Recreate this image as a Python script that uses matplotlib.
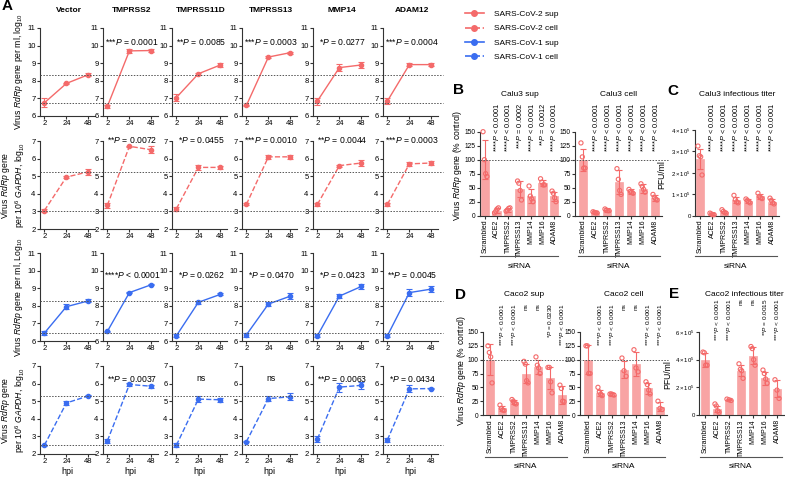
import numpy as np
import matplotlib
matplotlib.use("Agg")
import matplotlib.pyplot as plt
import matplotlib.transforms as mtransforms
from matplotlib.lines import Line2D

plt.rcParams["font.family"] = ["Liberation Sans", "DejaVu Sans"]
plt.rcParams["mathtext.fontset"] = "custom"
plt.rcParams["mathtext.rm"] = "Liberation Sans"
plt.rcParams["mathtext.it"] = "Liberation Sans:italic"
plt.rcParams["axes.linewidth"] = 0.8

W, H = 785, 480
RED = "#F46A6A"
BLUE = "#3A6DF0"
BAR_FILL = "#F8A4A4"
AXC = "#333333"

# ── Panel A data ─────────────────────────────────────────────────────────
hpi = ["2", "24", "48"]
constructs = ["Vector", "TMPRSS2", "TMPRSS11D", "TMPRSS13", "MMP14", "ADAM12"]

cov2_sup_mean = [[6.75, 7.85, 8.35], [6.55, 9.7, 9.72], [7.05, 8.4, 8.9],
                 [6.6, 9.35, 9.6], [6.85, 8.75, 8.9], [6.85, 8.92, 8.92]]
cov2_sup_err = [[0.25, 0.05, 0.08], [0.1, 0.1, 0.1], [0.2, 0.05, 0.12],
                [0.03, 0.05, 0.05], [0.2, 0.2, 0.15], [0.15, 0.08, 0.1]]
cov2_sup_p = ["", "***$P$ = 0.0001", "**$P$ = 0.0085", "***$P$ = 0.0003",
              "*$P$ = 0.0277", "***$P$ = 0.0004"]

cov2_cell_mean = [[3.05, 4.95, 5.25], [3.35, 6.7, 6.5], [3.15, 5.5, 5.5],
                  [3.4, 6.1, 6.1], [3.4, 5.6, 5.75], [3.4, 5.7, 5.75]]
cov2_cell_err = [[0.1, 0.05, 0.18], [0.15, 0.03, 0.2], [0.1, 0.12, 0.1],
                 [0.05, 0.1, 0.1], [0.1, 0.05, 0.15], [0.1, 0.12, 0.1]]
cov2_cell_p = ["", "**$P$ = 0.0072", "*$P$ = 0.0455", "***$P$ = 0.0010",
               "**$P$ = 0.0044", "***$P$ = 0.0003"]

cov1_sup_mean = [[6.45, 7.95, 8.28], [6.55, 8.75, 9.2], [6.3, 8.2, 8.65],
                 [6.35, 8.1, 8.55], [6.3, 8.55, 9.1], [6.3, 8.75, 8.95]]
cov1_sup_err = [[0.1, 0.15, 0.08], [0.03, 0.03, 0.03], [0.1, 0.1, 0.05],
                [0.1, 0.1, 0.15], [0.1, 0.12, 0.15], [0.1, 0.2, 0.15]]
cov1_sup_p = ["", "****$P$ < 0.0001", "*$P$ = 0.0262", "*$P$ = 0.0470",
              "*$P$ = 0.0423", "**$P$ = 0.0045"]

cov1_cell_mean = [[2.5, 4.9, 5.3], [2.75, 5.95, 5.85], [2.5, 5.12, 5.08],
                  [2.7, 5.15, 5.25], [2.85, 5.8, 5.9], [2.8, 5.7, 5.72]]
cov1_cell_err = [[0.03, 0.12, 0.03], [0.12, 0.08, 0.08], [0.1, 0.15, 0.12],
                 [0.03, 0.12, 0.2], [0.18, 0.25, 0.18], [0.1, 0.2, 0.03]]
cov1_cell_p = ["", "**$P$ = 0.0037", "ns", "ns", "**$P$ = 0.0063", "*$P$ = 0.0434"]

legend_labels = ["SARS-CoV-2 sup", "SARS-CoV-2 cell", "SARS-CoV-1 sup", "SARS-CoV-1 cell"]

# ── Panels B–E data ──────────────────────────────────────────────────────
sirna = ["Scrambled", "ACE2", "TMPRSS2", "TMPRSS13", "MMP14", "MMP16", "ADAM8"]

calu3_sup_mean = [100, 9, 10, 48, 35, 58, 35]
calu3_sup_sd = [35, 4, 4, 14, 12, 5, 8]
calu3_sup_pts = [[150, 100, 75, 70], [5, 8, 12, 14], [8, 10, 13, 14], [62, 58, 45, 28],
                 [53, 35, 30, 25], [66, 60, 55, 55], [44, 40, 32, 25]]
calu3_sup_p = ["", "****$P$ < 0.0001", "****$P$ < 0.0001", "***$P$ = 0.0002",
               "****$P$ < 0.0001", "**$P$ = 0.0012", "****$P$ < 0.0001"]

calu3_cell_mean = [100, 6, 10, 60, 43, 48, 32]
calu3_cell_sd = [20, 2, 3, 22, 4, 8, 5]
calu3_cell_pts = [[130, 105, 85, 85], [7, 6, 5, 5], [12, 10, 9, 9], [84, 65, 45, 38],
                  [47, 43, 42, 40], [57, 52, 47, 42], [38, 33, 30, 28]]
calu3_cell_p = ["", "****$P$ < 0.0001", "****$P$ < 0.0001", "****$P$ < 0.0001",
                "****$P$ < 0.0001", "****$P$ < 0.0001", "****$P$ < 0.0001"]

calu3_pfu_mean = [2.65e5, 0.08e5, 0.18e5, 0.72e5, 0.68e5, 0.9e5, 0.65e5]
calu3_pfu_sd = [0.45e5, 0.03e5, 0.06e5, 0.15e5, 0.08e5, 0.12e5, 0.12e5]
calu3_pfu_pts = [[3.25e5, 2.8e5, 2.75e5, 1.9e5], [0.12e5, 0.08e5, 0.05e5, 0.05e5],
                 [0.28e5, 0.2e5, 0.15e5, 0.12e5], [0.95e5, 0.75e5, 0.65e5, 0.6e5],
                 [0.78e5, 0.72e5, 0.65e5, 0.6e5], [1.05e5, 0.9e5, 0.85e5, 0.8e5],
                 [0.82e5, 0.72e5, 0.6e5, 0.55e5]]
calu3_pfu_p = calu3_cell_p

caco2_sup_mean = [100, 12, 23, 75, 87, 67, 36]
caco2_sup_sd = [28, 5, 4, 17, 12, 20, 17]
caco2_sup_pts = [[125, 113, 105, 58], [18, 12, 9, 8], [28, 25, 21, 20], [97, 92, 62, 58],
                 [105, 90, 85, 75], [86, 86, 60, 40], [54, 48, 25, 24]]
caco2_sup_p = ["", "****$P$ < 0.0001", "****$P$ < 0.0001", "ns", "ns",
               "*$P$ = 0.0230", "****$P$ < 0.0001"]

caco2_cell_mean = [100, 40, 37, 82, 92, 48, 15]
caco2_cell_sd = [26, 6, 2, 15, 22, 10, 8]
caco2_cell_pts = [[125, 125, 75, 75], [50, 42, 38, 35], [38, 38, 37, 36], [103, 80, 70],
                  [118, 85, 78], [60, 55, 45, 38], [25, 12, 10]]
caco2_cell_p = ["", "****$P$ < 0.0001", "****$P$ < 0.0001", "ns", "ns",
                "****$P$ < 0.0001", "****$P$ < 0.0001"]

caco2_pfu_mean = [4.0e5, 0.45e5, 1.1e5, 3.2e5, 4.3e5, 2.65e5, 1.9e5]
caco2_pfu_sd = [0.5e5, 0.2e5, 0.05e5, 0.4e5, 0.6e5, 0.45e5, 0.6e5]
caco2_pfu_pts = [[4.55e5, 4.5e5, 3.6e5, 3.6e5], [0.8e5, 0.65e5, 0.3e5, 0.2e5],
                 [1.15e5, 1.1e5, 1.05e5], [3.7e5, 3.3e5, 3.2e5, 2.65e5],
                 [4.95e5, 4.8e5, 4.0e5, 3.6e5], [3.25e5, 3.0e5, 2.6e5, 2.3e5],
                 [2.55e5, 1.8e5, 1.2e5]]
caco2_pfu_p = ["", "****$P$ < 0.0001", "****$P$ < 0.0001", "ns", "ns",
               "**$P$ = 0.0015", "****$P$ < 0.0001"]


def px_rect(left, top, width, height):
    return [left / W, 1 - (top + height) / H, width / W, height / H]


def fx(x):
    return x / W


def fy(y):
    return 1 - y / H


def style_axes(ax, labelsize=5.5):
    for s in ["top", "right"]:
        ax.spines[s].set_visible(False)
    for s in ["left", "bottom"]:
        ax.spines[s].set_color(AXC)
    ax.tick_params(length=2, width=0.8, labelsize=labelsize, pad=1.2, color=AXC)


fig = plt.figure(figsize=(W / 100, H / 100), dpi=100)

# ── Panel A ──────────────────────────────────────────────────────────────
col_left = [40, 103, 172, 242, 313, 383]
row_top = [28, 141, 253, 366]
a_w, a_h = 55, 88
p_offset = [9, -6, 17, 8]

rows = [
    (cov2_sup_mean, cov2_sup_err, cov2_sup_p, RED, "-", (6, 11)),
    (cov2_cell_mean, cov2_cell_err, cov2_cell_p, RED, "--", (2, 7)),
    (cov1_sup_mean, cov1_sup_err, cov1_sup_p, BLUE, "-", (6, 11)),
    (cov1_cell_mean, cov1_cell_err, cov1_cell_p, BLUE, "--", (2, 7)),
]
ylabels = [
    "Virus $\\mathit{RdRp}$ gene per ml, log$_{10}$",
    "Virus $\\mathit{RdRp}$ gene\nper 10$^{6}$ $\\mathit{GAPDH}$, log$_{10}$",
    "Virus $\\mathit{RdRp}$ gene per ml, Log$_{10}$",
    "Virus $\\mathit{RdRp}$ gene\nper 10$^{6}$ $\\mathit{GAPDH}$, log$_{10}$",
]
ylabel_x = [19, 13, 19, 13]

x = np.arange(len(hpi))
for r, (means, errs, ptxt, color, ls, ylim) in enumerate(rows):
    first_ax = None
    for c in range(len(constructs)):
        ax = fig.add_axes(px_rect(col_left[c], row_top[r], a_w, a_h))
        ax.errorbar(x, means[c], yerr=errs[c], color=color, ls=ls, lw=1.0,
                    marker="o", ms=3, capsize=2, elinewidth=0.8, capthick=0.8)
        ax.set_xlim(-0.2, 2.3)
        ax.set_ylim(*ylim)
        ax.set_yticks(range(ylim[0], ylim[1] + 1))
        ax.set_xticks(x)
        ax.set_xticklabels(hpi)
        style_axes(ax)
        if ptxt[c]:
            ax.text(0.53, 1 - p_offset[r] / a_h, ptxt[c], transform=ax.transAxes,
                    ha="center", va="top", fontsize=6.2)
        if r == 0:
            fig.text(fx(col_left[c] + 29), fy(10), constructs[c], ha="center", va="center",
                     fontsize=6, fontweight="bold")
        if r == 3:
            fig.text(fx(col_left[c] + 27), fy(472), "hpi", ha="center", va="center", fontsize=6.5)
        if c == 0:
            first_ax = ax
    # dotted reference lines at the vector 2 h and 48 h levels
    trans = mtransforms.blended_transform_factory(fig.transFigure, first_ax.transData)
    for level in (means[0][0], means[0][2]):
        fig.add_artist(Line2D([fx(40), fx(443)], [level, level], transform=trans,
                              color="#555555", lw=0.7, ls=(0, (1.5, 1.5))))
    fig.text(fx(ylabel_x[r]), fy(row_top[r] + a_h / 2), ylabels[r], rotation=90,
             ha="center", va="center", fontsize=6.2, linespacing=1.1)

fig.text(fx(7), fy(6), "A", fontsize=11, fontweight="bold", ha="center", va="center")

# legend
handles = [
    Line2D([], [], color=RED, ls="-", marker="o", ms=4, lw=1.2),
    Line2D([], [], color=RED, ls="--", marker="o", ms=4, lw=1.2),
    Line2D([], [], color=BLUE, ls="-", marker="o", ms=4, lw=1.2),
    Line2D([], [], color=BLUE, ls="--", marker="o", ms=4, lw=1.2),
]
fig.legend(handles, legend_labels, loc="upper left", bbox_to_anchor=(fx(457), fy(3)),
           frameon=False, fontsize=6, handlelength=2.3, labelspacing=0.75, handletextpad=1.2)


# ── Panels B–E ───────────────────────────────────────────────────────────
def bar_panel(spine_x, first_x, step, top, height, means, sds, points, ptexts, ylim,
              yticks, yticklabels, p_top, p_size, ytick_size, bracket_y):
    off = (first_x - spine_x) / step
    width_px = (off + 6.55) * step
    ax = fig.add_axes(px_rect(spine_x, top, width_px, height))
    xs = np.arange(len(sirna))
    ax.bar(xs, means, width=0.72, color=BAR_FILL, edgecolor=BAR_FILL, lw=0.5, zorder=1)
    ax.errorbar(xs, means, yerr=sds, fmt="none", ecolor=RED, elinewidth=0.8,
                capsize=2, capthick=0.8, zorder=2)
    for xi, pts in zip(xs, points):
        n = len(pts)
        jit = np.linspace(-0.17, 0.17, n) if n > 1 else np.zeros(1)
        ax.scatter(xi + jit, pts, s=9, facecolor="none", edgecolor=RED, lw=0.8, zorder=3,
                   clip_on=False)
    ax.set_xlim(-off, 6.55)
    ax.set_ylim(*ylim)
    ax.set_yticks(yticks)
    ax.set_yticklabels(yticklabels)
    ax.set_xticks(xs)
    ax.set_xticklabels(sirna, rotation=90, fontsize=5)
    style_axes(ax, labelsize=ytick_size)
    ax.tick_params(length=2, pad=1)
    ax.tick_params(axis="x", labelsize=5)
    trans = mtransforms.blended_transform_factory(ax.transData, fig.transFigure)
    for xi, t in zip(xs, ptexts):
        if t:
            ax.text(xi, fy(p_top), t, transform=trans, rotation=90, ha="center", va="top",
                    fontsize=p_size)
    # siRNA bracket
    x0 = first_x - 5
    x1 = spine_x + width_px - 2
    fig.add_artist(Line2D([fx(x0), fx(x1)], [fy(bracket_y), fy(bracket_y)],
                          transform=fig.transFigure, color="#555555", lw=0.8))
    fig.text(fx((x0 + x1) / 2), fy(bracket_y + 10), "siRNA", ha="center", va="center",
             fontsize=6)
    return ax


pct_ticks = [0, 25, 50, 75, 100, 125, 150]
pct_labels = [str(t) for t in pct_ticks]

ax_b1 = bar_panel(480, 485, 11.5, 131.7, 84, calu3_sup_mean, calu3_sup_sd, calu3_sup_pts,
                  calu3_sup_p, (0, 150), pct_ticks, pct_labels, 103, 5.3, 4.8, 256)
ax_b2 = bar_panel(575, 583, 12.0, 131.7, 84, calu3_cell_mean, calu3_cell_sd, calu3_cell_pts,
                  calu3_cell_p, (0, 150), pct_ticks, pct_labels, 103, 5.3, 4.8, 256)
pfu4 = [0, 1e5, 2e5, 3e5, 4e5]
pfu4_lab = ["0"] + ["$%d\\times10^{5}$" % k for k in range(1, 5)]
ax_c = bar_panel(695, 700, 12, 130, 85.7, calu3_pfu_mean, calu3_pfu_sd, calu3_pfu_pts,
                 calu3_pfu_p, (0, 4e5), pfu4, pfu4_lab, 103, 5.3, 4.3, 256)
ax_d1 = bar_panel(483, 490, 12, 332, 83, caco2_sup_mean, caco2_sup_sd, caco2_sup_pts,
                  caco2_sup_p, (0, 150), pct_ticks, pct_labels, 303, 4.6, 4.8, 457)
ax_d2 = bar_panel(580, 588, 12, 332, 83, caco2_cell_mean, caco2_cell_sd, caco2_cell_pts,
                  caco2_cell_p, (0, 150), pct_ticks, pct_labels, 303, 4.6, 4.8, 457)
pfu6 = [0, 2e5, 4e5, 6e5]
pfu6_lab = ["0"] + ["$%d\\times10^{5}$" % k for k in (2, 4, 6)]
ax_e = bar_panel(699, 705, 12, 332, 83, caco2_pfu_mean, caco2_pfu_sd, caco2_pfu_pts,
                 caco2_pfu_p, (0, 6e5), pfu6, pfu6_lab, 298, 4.6, 4.3, 457)

# 100 % control reference lines
for axp, x0, x_end in ((ax_b1, 480, 668), (ax_d1, 483, 668)):
    trans = mtransforms.blended_transform_factory(fig.transFigure, axp.transData)
    fig.add_artist(Line2D([fx(x0), fx(x_end)], [100, 100], transform=trans,
                          color="#555555", lw=0.7, ls=(0, (1.5, 1.5))))

# titles, letters, y labels
for txt, xc, yc in (("Calu3 sup", 520, 95), ("Calu3 cell", 619, 95),
                    ("Calu3 infectious titer", 737, 95), ("Caco2 sup", 524, 295),
                    ("Caco2 cell", 624, 295), ("Caco2 infectious titer", 744, 295)):
    fig.text(fx(xc), fy(yc), txt, ha="center", va="center", fontsize=6)
for letter, xc, yc in (("B", 458, 90), ("C", 673, 91), ("D", 460, 295), ("E", 674, 294)):
    fig.text(fx(xc), fy(yc), letter, ha="center", va="center", fontsize=11, fontweight="bold")
for txt, xc, yc in (("Virus $\\mathit{RdRp}$ gene (% control)", 458, 165),
                    ("Virus $\\mathit{RdRp}$ gene (% control)", 461, 370),
                    ("PFU/ml", 662, 175), ("PFU/ml", 668, 375)):
    fig.text(fx(xc), fy(yc), txt, rotation=90, ha="center", va="center", fontsize=6.2)

fig.savefig("out.png", dpi=100)
